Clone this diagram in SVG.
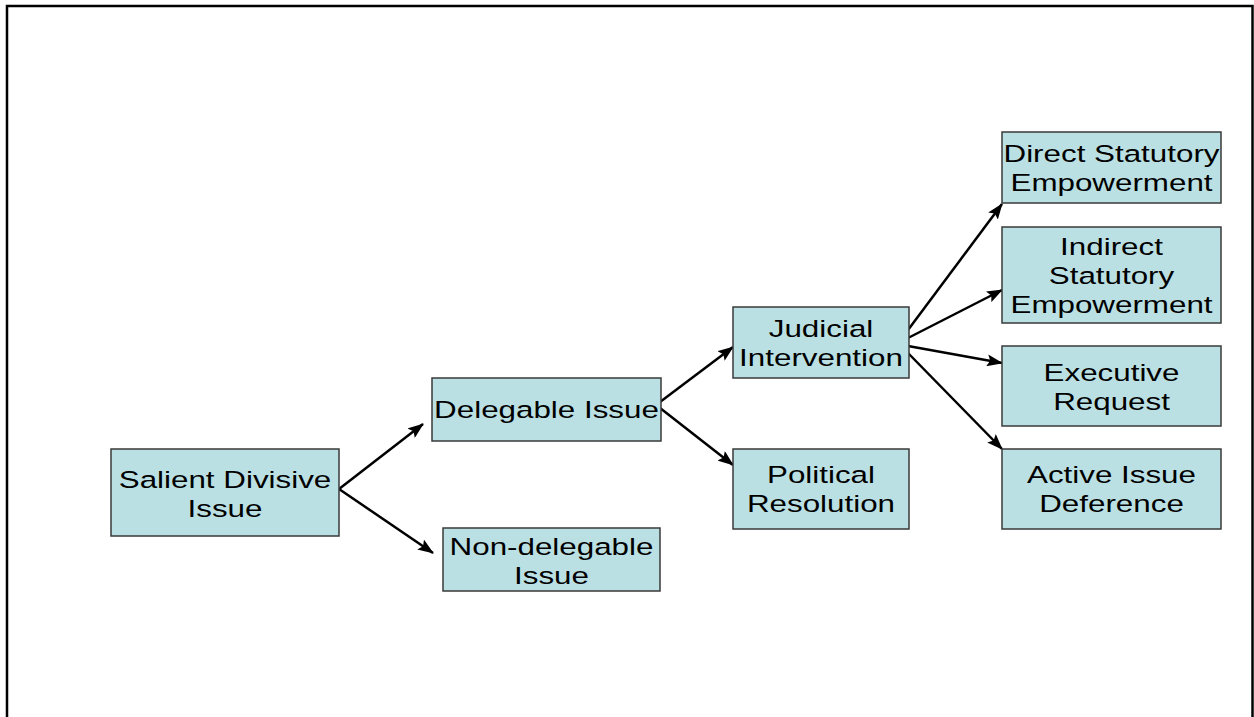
<svg xmlns="http://www.w3.org/2000/svg" width="1254" height="717" viewBox="0 0 1254 717">
<style>
.box{fill:#BBE0E3;stroke:#3a3a3a;stroke-width:1.5}
.t{font-family:"Liberation Sans",Arial,sans-serif;font-size:24.5px;fill:#000;text-anchor:middle}
.c{stroke:#000;stroke-width:2.5;fill:none;marker-end:url(#ah)}
</style>
<defs>
<marker id="ah" markerUnits="userSpaceOnUse" markerWidth="16" markerHeight="12" viewBox="0 0 16 12" refX="15" refY="6" orient="auto">
<path d="M0,0 L16,6 L0,12 L3,6 Z" fill="#000"/>
</marker>
</defs>
<rect width="1254" height="717" fill="#fff"/>
<rect x="7" y="6" width="1245.5" height="800" fill="none" stroke="#000" stroke-width="2.5"/>
<g id="connectors">
<line class="c" x1="339" y1="489" x2="423" y2="424"/>
<line class="c" x1="339" y1="489" x2="433" y2="553"/>
<line class="c" x1="660" y1="402" x2="733" y2="347"/>
<line class="c" x1="660" y1="408" x2="733" y2="465"/>
<line class="c" x1="908" y1="330" x2="1002" y2="204"/>
<line class="c" x1="908" y1="338" x2="1002" y2="290"/>
<line class="c" x1="908" y1="346" x2="1002" y2="363"/>
<line class="c" x1="908" y1="353" x2="1002" y2="449"/>
</g>
<g id="salient">
<rect class="box" x="111" y="449" width="228" height="87"/>
<text class="t" transform="translate(225,0) scale(1.28,1)"><tspan x="0" y="488">Salient Divisive</tspan><tspan x="0" y="517">Issue</tspan></text>
</g>
<g id="delegable">
<rect class="box" x="432" y="378" width="229" height="63"/>
<text class="t" transform="translate(546.5,0) scale(1.28,1)"><tspan x="0" y="418">Delegable Issue</tspan></text>
</g>
<g id="nondelegable">
<rect class="box" x="443" y="528" width="217" height="63"/>
<text class="t" transform="translate(551.5,0) scale(1.28,1)"><tspan x="0" y="555">Non-delegable</tspan><tspan x="0" y="584">Issue</tspan></text>
</g>
<g id="judicial">
<rect class="box" x="733" y="307" width="176" height="71"/>
<text class="t" transform="translate(821,0) scale(1.28,1)"><tspan x="0" y="337">Judicial</tspan><tspan x="0" y="366">Intervention</tspan></text>
</g>
<g id="political">
<rect class="box" x="733" y="449" width="176" height="80"/>
<text class="t" transform="translate(821,0) scale(1.28,1)"><tspan x="0" y="483">Political</tspan><tspan x="0" y="512">Resolution</tspan></text>
</g>
<g id="direct">
<rect class="box" x="1002" y="132" width="219" height="71"/>
<text class="t" transform="translate(1111.5,0) scale(1.28,1)"><tspan x="0" y="162">Direct Statutory</tspan><tspan x="0" y="191">Empowerment</tspan></text>
</g>
<g id="indirect">
<rect class="box" x="1002" y="227" width="219" height="96"/>
<text class="t" transform="translate(1111.5,0) scale(1.28,1)"><tspan x="0" y="255">Indirect</tspan><tspan x="0" y="284">Statutory</tspan><tspan x="0" y="313">Empowerment</tspan></text>
</g>
<g id="executive">
<rect class="box" x="1002" y="346" width="219" height="80"/>
<text class="t" transform="translate(1111.5,0) scale(1.28,1)"><tspan x="0" y="381">Executive</tspan><tspan x="0" y="410">Request</tspan></text>
</g>
<g id="active">
<rect class="box" x="1002" y="449" width="219" height="80"/>
<text class="t" transform="translate(1111.5,0) scale(1.28,1)"><tspan x="0" y="483">Active Issue</tspan><tspan x="0" y="512">Deference</tspan></text>
</g>
</svg>
